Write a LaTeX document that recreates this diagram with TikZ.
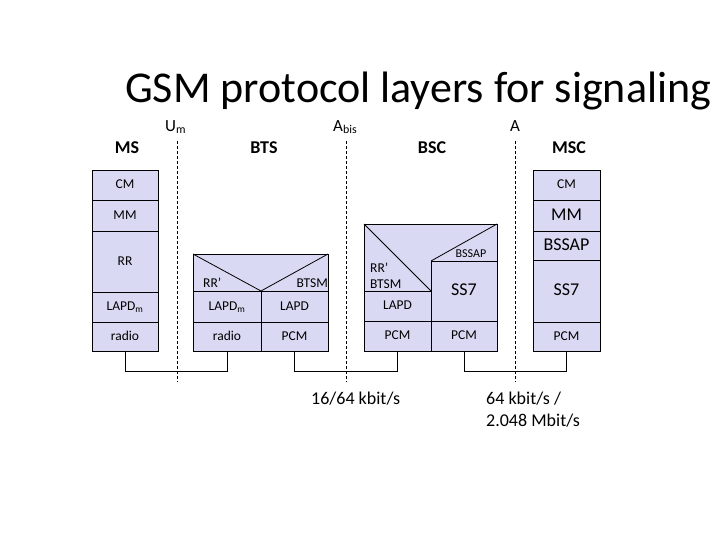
\documentclass[tikz,border=0pt]{standalone}
\usepackage{fontspec}
\setmainfont{Carlito}
\definecolor{lav}{RGB}{217,217,243}
\begin{document}
\begin{tikzpicture}[x=1pt,y=-1pt,
  layer/.style={draw=black, fill=lav, line width=0.8pt, inner sep=0pt, outer sep=0pt, text height=9pt, text depth=2pt, font=\fontsize{13.5}{15}\selectfont},
  big/.style={font=\fontsize{18}{20}\selectfont, text height=12pt, text depth=3pt},
  head/.style={font=\bfseries\fontsize{18}{20}\selectfont},
  iface/.style={font=\fontsize{17}{19}\selectfont},
  rate/.style={font=\fontsize{18}{20}\selectfont},
  small/.style={font=\fontsize{13.5}{15}\selectfont},
  sep/.style={dashed, line width=0.7pt, dash pattern=on 3pt off 2pt},
  conn/.style={line width=0.8pt}]
\useasboundingbox (0,0) rectangle (728,546);
\fill[white] (0,0) rectangle (728,546);
% title
\node[anchor=base west, inner sep=0pt, font=\fontsize{44}{48}\selectfont] (title) at (125,102) {GSM protocol layers for signaling};
% interface labels
\node[iface, anchor=base west, inner sep=0pt] (um) at (165,131) {U\textsubscript{m}};
\node[iface, anchor=base west, inner sep=0pt] (abis) at (333,131) {A\textsubscript{bis}};
\node[iface, anchor=base west, inner sep=0pt] (aif) at (510,131) {A};
\coordinate (umt) at (177,141); \coordinate (umb) at (177,382);
\coordinate (abt) at (346,141); \coordinate (abb) at (346,382);
\coordinate (at) at (515,141); \coordinate (ab) at (515,382);
\draw[sep] (umt) -- (umb);
\draw[sep] (abt) -- (abb);
\draw[sep] (at) -- (ab);
% headings
\node[head] (ms) at (127,148) {MS};
\node[head] (bts) at (264,148) {BTS};
\node[head] (bsc) at (432,148) {BSC};
\node[head] (msc) at (569,148) {MSC};
% MS stack
\node[layer, minimum width=66pt, minimum height=30pt] (mscm) at (125,185) {CM};
\node[layer, minimum width=66pt, minimum height=31pt] (msmm) at (125,215.5) {MM};
\node[layer, minimum width=66pt, minimum height=61pt] (msrr) at (125,261.5) {RR};
\node[layer, minimum width=66pt, minimum height=30pt] (mslapd) at (125,307) {LAPD\textsubscript{m}};
\node[layer, minimum width=66pt, minimum height=29pt] (msradio) at (125,336.5) {radio};
% BTS stack
\draw[draw=black, fill=lav, line width=0.8pt] (193,254) rectangle (328,291);
\draw[line width=0.8pt] (193,254) -- (261,291) -- (328,254);
\node[anchor=base west, inner sep=0pt, small] (btsrr) at (203,287) {RR’};
\node[anchor=base east, inner sep=0pt, small] (btsm) at (328,287) {BTSM};
\node[layer, minimum width=68pt, minimum height=31pt] (btslapdm) at (227,306.5) {LAPD\textsubscript{m}};
\node[layer, minimum width=67pt, minimum height=31pt] (btslapd) at (294.5,306.5) {LAPD};
\node[layer, minimum width=68pt, minimum height=29pt] (btsradio) at (227,336.5) {radio};
\node[layer, minimum width=67pt, minimum height=29pt] (btspcm) at (294.5,336.5) {PCM};
% BSC stack
\draw[draw=black, fill=lav, line width=0.8pt] (364,224) -- (497,224) -- (497,261) -- (431,261) -- (431,291) -- (364,291) -- cycle;
\draw[line width=0.8pt] (364,224) -- (431,291);
\draw[line width=0.8pt] (431,261) -- (497,224);
\node[anchor=base west, inner sep=0pt, small] (bscrr) at (370,272) {RR’};
\node[anchor=base west, inner sep=0pt, small] (bscbtsm) at (370,288) {BTSM};
\node[anchor=base, inner sep=0pt, font=\fontsize{12}{14}\selectfont] (bscbssap) at (471,257) {BSSAP};
\node[layer, minimum width=67pt, minimum height=30pt] (bsclapd) at (397.5,306) {LAPD};
\node[layer, minimum width=66pt, minimum height=60pt, big] (bscss7) at (464,291) {SS7};
\node[layer, minimum width=67pt, minimum height=30pt] (bscpcm1) at (397.5,336) {PCM};
\node[layer, minimum width=66pt, minimum height=30pt] (bscpcm2) at (464,336) {PCM};
% MSC stack
\node[layer, minimum width=67pt, minimum height=30pt] (msccm) at (566.5,185) {CM};
\node[layer, minimum width=67pt, minimum height=31pt, big] (mscmm) at (566.5,215.5) {MM};
\node[layer, minimum width=67pt, minimum height=29pt, big] (mscbssap) at (566.5,245.5) {BSSAP};
\node[layer, minimum width=67pt, minimum height=62pt, big] (mscss7) at (566.5,291) {SS7};
\node[layer, minimum width=67pt, minimum height=29pt] (mscpcm) at (566.5,336.5) {PCM};
% connectors
\draw[conn] (msradio.south) -- ++(0,20) -| (btsradio.south);
\draw[conn] (btspcm.south) -- ++(0,20) -| (bscpcm1.south);
\draw[conn] (bscpcm2.south) -- ++(0,20) -| (mscpcm.south);
% rates
\node[anchor=base west, inner sep=0pt, rate] (r1) at (311,404) {16/64 kbit/s};
\node[anchor=base west, inner sep=0pt, rate] (r2) at (486,404) {64 kbit/s /};
\node[anchor=base west, inner sep=0pt, rate] (r3) at (486,426) {2.048 Mbit/s};
\end{tikzpicture}
\end{document}
